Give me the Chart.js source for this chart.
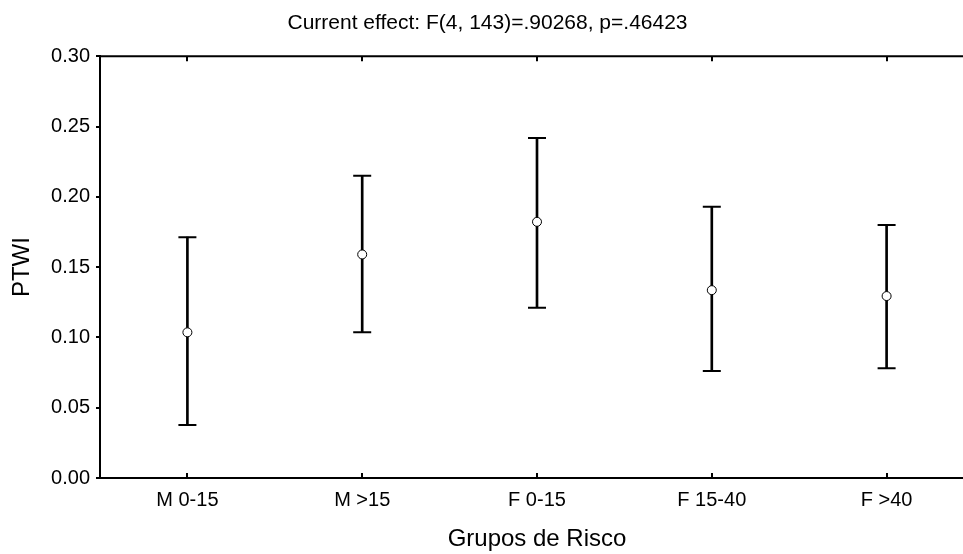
<!DOCTYPE html>
<html>
<head>
<meta charset="utf-8">
<script src="https://cdn.jsdelivr.net/npm/chart.js@4"></script>
<style>
  html, body { margin: 0; padding: 0; background: #fff; overflow: hidden; }
  #wrap { width: 963px; height: 554px; overflow: hidden; position: relative; }
  canvas { display: block; }
</style>
</head>
<body>
<div id="wrap"><canvas id="c" width="985" height="554"></canvas></div>
<script>
const categories = ['M 0-15', 'M >15', 'F 0-15', 'F 15-40', 'F >40'];
const means = [0.1036, 0.1590, 0.1822, 0.1336, 0.1294];
const upper = [0.1713, 0.2149, 0.2419, 0.1929, 0.1799];
const lower = [0.0377, 0.1036, 0.1211, 0.0761, 0.0780];
const titleText = 'Current effect: F(4, 143)=.90268, p=.46423';
const xTitle = 'Grupos de Risco';
const yTitle = 'PTWI';
const yMin = 0, yMax = 0.30, yStep = 0.05;

Chart.defaults.color = '#000';
Chart.defaults.font.family = "'Liberation Sans', Arial, sans-serif";

const frameTicks = {
  id: 'frameTicks',
  afterDraw(chart) {
    const {ctx, chartArea} = chart;
    const xs = chart.scales.x;
    ctx.save();
    ctx.strokeStyle = '#000';
    ctx.lineWidth = 2;
    ctx.beginPath();
    ctx.moveTo(chartArea.left - 1, chartArea.top);
    ctx.lineTo(chartArea.right, chartArea.top);
    ctx.stroke();
    ctx.beginPath();
    categories.forEach((c, i) => {
      const x = Math.round(xs.getPixelForValue(i));
      ctx.moveTo(x, chartArea.bottom);
      ctx.lineTo(x, chartArea.bottom - 5);
      ctx.moveTo(x, chartArea.top);
      ctx.lineTo(x, chartArea.top + 5);
    });
    ctx.stroke();
    ctx.restore();
  }
};

new Chart(document.getElementById('c'), {
  type: 'bar',
  data: {
    labels: categories,
    datasets: [
      {
        type: 'line',
        data: means,
        showLine: false,
        pointRadius: 4.5,
        pointBackgroundColor: '#fff',
        pointBorderColor: '#000',
        pointBorderWidth: 1,
        order: 0
      },
      {
        type: 'line',
        data: upper,
        showLine: false,
        pointStyle: 'line',
        pointRadius: 9,
        pointBorderColor: '#000',
        pointBorderWidth: 2,
        order: 1
      },
      {
        type: 'line',
        data: lower,
        showLine: false,
        pointStyle: 'line',
        pointRadius: 9,
        pointBorderColor: '#000',
        pointBorderWidth: 2,
        order: 1
      },
      {
        type: 'bar',
        data: categories.map((c, i) => [lower[i], upper[i]]),
        backgroundColor: '#000',
        borderWidth: 0,
        barThickness: 2,
        order: 2
      }
    ]
  },
  options: {
    responsive: false,
    animation: false,
    devicePixelRatio: 1,
    events: [],
    layout: { padding: { left: 0, right: 10, top: 0, bottom: 0 } },
    plugins: {
      legend: { display: false },
      tooltip: { enabled: false },
      title: {
        display: true,
        text: titleText,
        font: { size: 21, weight: 'normal' },
        color: '#000',
        padding: { top: 11, bottom: 20 }
      }
    },
    scales: {
      x: {
        type: 'category',
        offset: true,
        grid: { display: false, drawTicks: false },
        border: { display: true, color: '#000', width: 2 },
        ticks: { font: { size: 20 }, color: '#000', padding: 10, maxRotation: 0 },
        title: { display: true, text: xTitle, font: { size: 24 }, color: '#000', padding: { top: 0, bottom: 0 } },
        afterFit(scale) { scale.height = 76; }
      },
      y: {
        min: yMin,
        max: yMax,
        grid: { display: true, drawOnChartArea: false, drawTicks: true, tickLength: 4, color: '#000', tickColor: '#000', lineWidth: 2 },
        border: { display: true, color: '#000', width: 2 },
        ticks: { stepSize: yStep, font: { size: 20 }, color: '#000', padding: 6, callback: v => Number(v).toFixed(2) },
        title: { display: true, text: yTitle, font: { size: 24 }, color: '#000', padding: { top: 8, bottom: 0 } },
        afterFit(scale) { scale.width = 100; }
      }
    }
  },
  plugins: [frameTicks]
});
</script>
</body>
</html>
